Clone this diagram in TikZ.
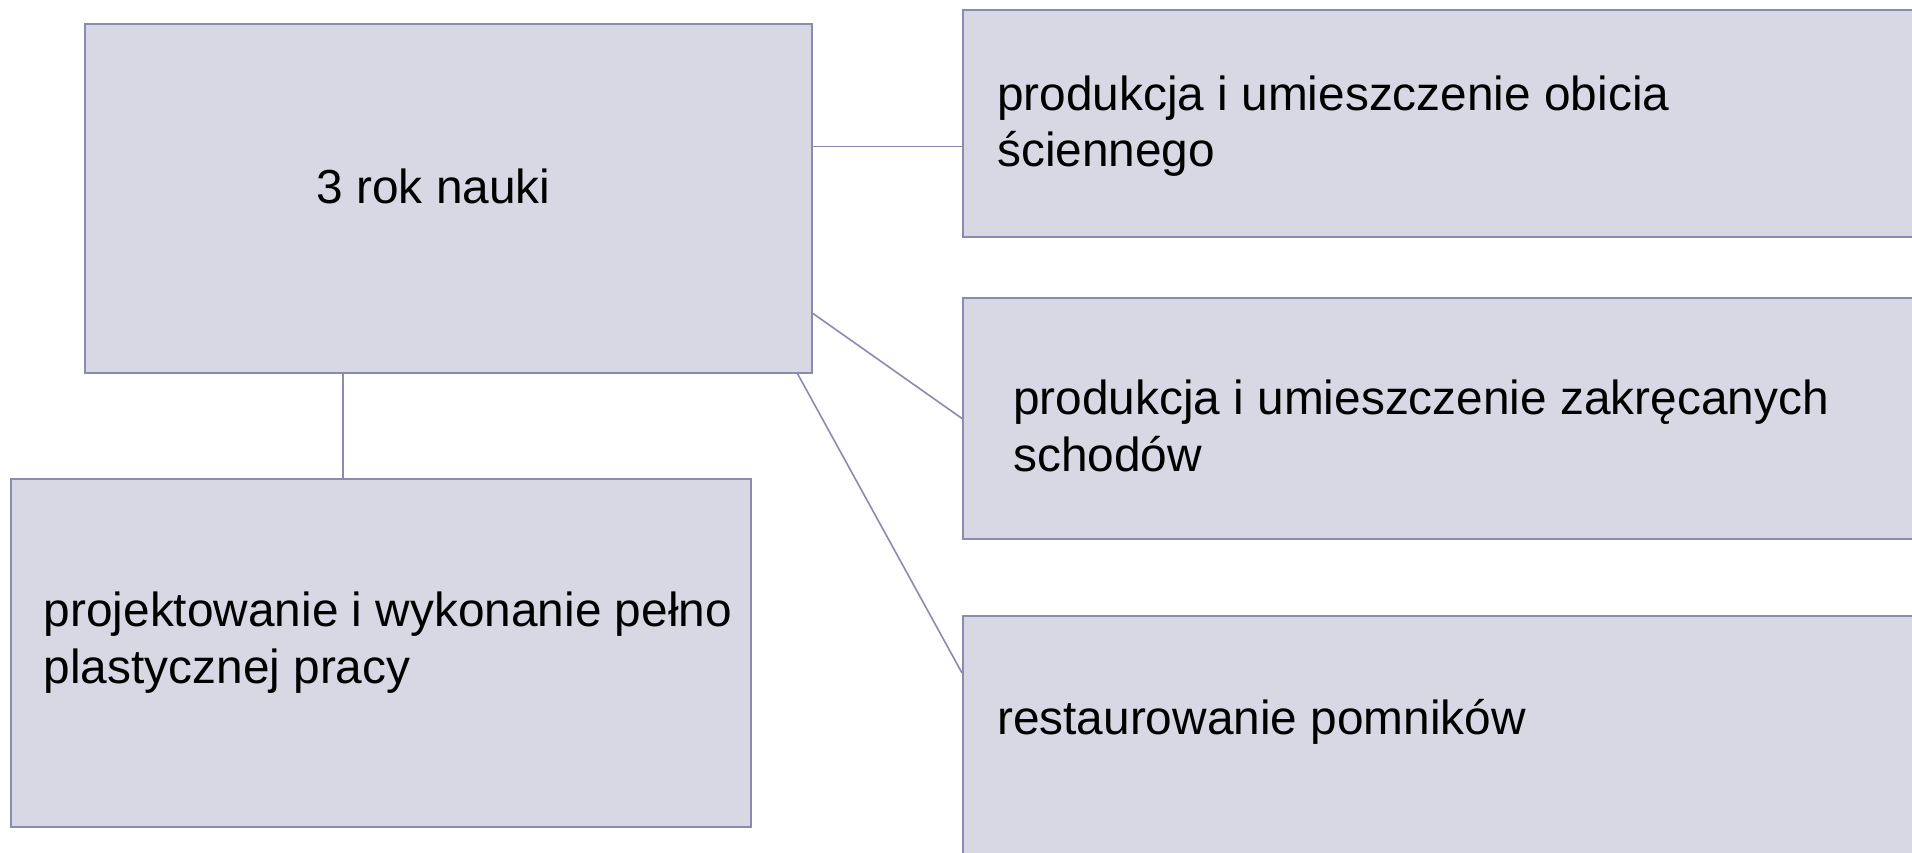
\documentclass[tikz,border=0pt]{standalone}
\usepackage{fontspec}
\setmainfont{Liberation Sans}
\definecolor{boxfill}{RGB}{216,216,228}
\definecolor{boxline}{RGB}{138,138,178}
\begin{document}
\begin{tikzpicture}[x=1pt,y=-1pt,
  box/.style={draw=boxline, fill=boxfill, line width=2pt, rectangle, inner sep=0pt},
  conn/.style={draw=boxline, line width=1.6pt},
  txt/.style={anchor=base west, inner sep=0pt, font=\fontsize{47.8pt}{57pt}\selectfont}]
\useasboundingbox (0,0) rectangle (1912,853);
% boxes
\node[box, minimum width=727pt, minimum height=349pt] (main) at (448.5,198.5) {};
\node[box, minimum width=962pt, minimum height=227pt] (b1) at (1444,123.5) {};
\node[box, minimum width=962pt, minimum height=241pt] (b2) at (1444,418.5) {};
\node[box, minimum width=962pt, minimum height=254pt] (b3) at (1444,743) {};
\node[box, minimum width=740pt, minimum height=348pt] (bl) at (381,653) {};
% texts
\node[txt] (tmain) at (316.3,204) {3 rok nauki};
\node[txt] (t1) at (997,110.5) {\vtop{\baselineskip=56.5pt\hbox{produkcja i umieszczenie obicia}\hbox{ściennego}}};
\node[txt] (t2) at (1013,414.3) {\vtop{\baselineskip=57.3pt\hbox{produkcja i umieszczenie zakręcanych}\hbox{schodów}}};
\node[txt] (t3) at (997,734) {restaurowanie pomników};
\node[txt] (tbl) at (43.6,626.5) {\vtop{\baselineskip=56.7pt\hbox{projektowanie i wykonanie pełno}\hbox{plastycznej pracy}}};
% connectors
\coordinate (c1) at ([yshift=51.8pt]main.east);
\draw[conn] (c1) -- (c1 -| b1.west);
\coordinate (c2) at ([yshift=-115pt]main.east);
\draw[conn] (c2) -- (b2.west);
\coordinate (c3a) at ([xshift=-15.3pt]main.south east);
\coordinate (c3b) at ([yshift=-58pt]b3.north west);
\draw[conn] (c3a) -- (c3b);
\coordinate (c4) at ([xshift=-38pt]bl.north);
\draw[conn] (c4) -- (c4 |- main.south);
\end{tikzpicture}
\end{document}
